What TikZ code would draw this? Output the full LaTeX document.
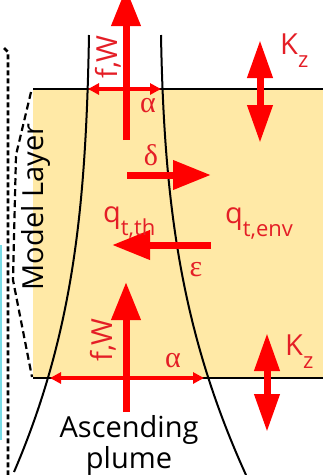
\documentclass[tikz,border=0pt]{standalone}
\usepackage{fontspec}
\setmainfont{Open Sans}
\newfontfamily\greekfont{Liberation Serif}
\usetikzlibrary{arrows.meta, positioning}

\definecolor{layerfill}{RGB}{255,233,166}
\definecolor{fluxred}{RGB}{255,0,0}
\definecolor{lblred}{RGB}{228,30,38}
\definecolor{edgecyan}{RGB}{120,220,230}

\newcommand\lowsub[1]{\raisebox{-0.45em}{\fontsize{22}{24}\selectfont #1}}

\begin{document}
\begin{tikzpicture}[x=1pt, y=-1pt, % one unit = one pixel of the sketch, y downwards
  bigflux/.style={draw=fluxred, line width=7pt, -{Triangle[length=38pt, width=28pt]}},
  mixflux/.style={draw=fluxred, line width=7pt,
    {Triangle[length=38pt, width=24pt]}-{Triangle[length=38pt, width=24pt]}},
  entflux/.style={draw=fluxred, line width=3.5pt,
    {Triangle[length=11pt, width=11pt]}-{Triangle[length=11pt, width=11pt]}},
  lbl/.style={text=lblred, font=\fontsize{29}{31}\selectfont, inner sep=0pt},
  grk/.style={text=lblred, font=\fontsize{30}{32}\greekfont, inner sep=0pt},
  blk/.style={text=black, font=\fontsize{29}{31}\selectfont, inner sep=0pt, align=center}]
  \useasboundingbox (0,0) rectangle (323,475);
  \clip (0,0) rectangle (323,475);

  % model layer
  \fill[layerfill] (33,89) rectangle (323,378);
  \draw[black, line width=2pt] (33,89) -- (323,89);
  \draw[black, line width=2pt] (33,378) -- (323,378);

  % dashed outlines on the left
  \draw[black, line width=2.8pt, dash pattern=on 5pt off 3pt] (4,48) -- (8,52) -- (8,475);
  \draw[black, line width=2.2pt, dash pattern=on 7pt off 4pt] (31,92) -- (16,155) -- (13,280) -- (32,377);
  \draw[edgecyan, line width=1.5pt] (1,245) -- (1,440);

  % plume edges
  \draw[black, line width=2pt] (89,35) .. controls (86,200) and (75,330) .. (14,472);
  \draw[black, line width=2pt] (161,35) .. controls (164,200) and (180,330) .. (246,475);

  % end points of the fluxes
  \coordinate (fwtopA) at (126,140);
  \coordinate (fwtopB) at (126,-12);
  \coordinate (fwbotA) at (126,412);
  \coordinate (fwbotB) at (126,282);
  \coordinate (detA) at (127,175);
  \coordinate (detB) at (211,175);
  \coordinate (entA) at (211,245);
  \coordinate (entB) at (112,245);
  \coordinate (kztopA) at (260,40);
  \coordinate (kztopB) at (260,143);
  \coordinate (kzbotA) at (267,333);
  \coordinate (kzbotB) at (267,432);
  \coordinate (alphatopA) at (88,89);
  \coordinate (alphatopB) at (161,89);
  \coordinate (alphabotA) at (50,378);
  \coordinate (alphabotB) at (204,378);

  \draw[entflux] (alphatopA) -- (alphatopB);
  \draw[entflux] (alphabotA) -- (alphabotB);
  \draw[bigflux] (fwtopA) -- (fwtopB);
  \draw[bigflux] (fwbotA) -- (fwbotB);
  \draw[bigflux] (detA) -- (detB);
  \draw[bigflux] (entA) -- (entB);
  \draw[mixflux] (kztopA) -- (kztopB);
  \draw[mixflux] (kzbotA) -- (kzbotB);

  % labels
  \node[lbl, rotate=90] (fwtoplbl) at (108,57) {f,W};
  \node[grk] (alphatop) at (148,106) {α};
  \node[grk] (deltalbl) at (151,155) {δ};
  \node[lbl, anchor=base west] (qth) at (103,222) {q\lowsub{t,th}};
  \node[lbl, anchor=base west] (qenv) at (225,223) {q\lowsub{t,env}};
  \node[grk] (epslbl) at (196,270) {ε};
  \node[lbl, rotate=90] (fwbotlbl) at (103,340) {f,W};
  \node[grk] (alphabot) at (173,361) {α};
  \node[lbl, anchor=base west] (kztop) at (280,54) {K\lowsub{z}};
  \node[lbl, anchor=base west] (kzbot) at (285,355) {K\lowsub{z}};
  \node[blk, rotate=90] (layerlbl) at (36,207) {Model Layer};
  \node[blk] (plumelbl) at (129,445) {Ascending\\plume};
\end{tikzpicture}
\end{document}
